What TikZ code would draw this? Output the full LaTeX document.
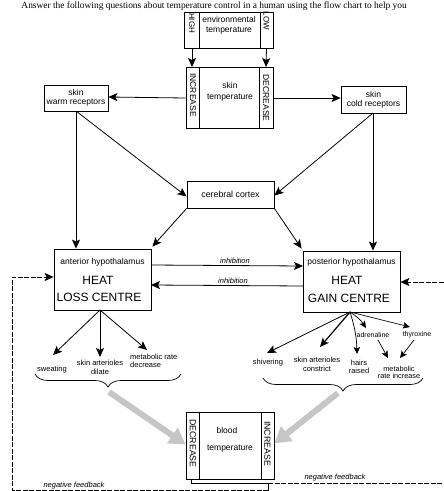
\documentclass[tikz,border=0pt]{standalone}
\usepackage{fontspec}
\setmainfont{Liberation Sans}
\newfontfamily\seriffont{Liberation Serif}
\usetikzlibrary{arrows.meta,decorations.pathreplacing,calc}
\begin{document}
\begin{tikzpicture}[x=1pt,y=-1pt,
  box/.style={draw,line width=0.8pt,rectangle,inner sep=0pt},
  con/.style={line width=0.8pt,-{Stealth[length=9pt,width=8pt,inset=2pt]}},
  scon/.style={line width=0.7pt,-{Stealth[length=7pt,width=6.5pt,inset=1.5pt]}},
  fb/.style={line width=0.7pt,dash pattern=on 5pt off 1.5pt},
  plain/.style={line width=0.8pt},
  txt/.style={inner sep=0pt,align=center,font=\fontsize{8.5}{9}\selectfont},
  small/.style={inner sep=0pt,align=center,font=\fontsize{7.5}{7.5}\selectfont},
  col/.style={inner sep=0pt,rotate=-90,font=\fontsize{8.5}{9}\selectfont},
  big/.style={inner sep=0pt,font=\fontsize{12}{13}\selectfont},
  itl/.style={inner sep=0pt,font=\itshape\fontsize{7.5}{8}\selectfont},
  grey/.style={line width=6pt,draw=gray!45,-{Triangle[length=16pt,width=18pt]}},
  brc/.style={line width=0.7pt,decorate,decoration={brace,mirror,amplitude=13pt}}
]
\useasboundingbox (0,0) rectangle (444,491);
\clip (0,0) rectangle (444,491);

% title line
\node[anchor=base east,inner sep=0pt,font=\seriffont\fontsize{9.4}{10}\selectfont] (title) at (407,8)
  {Answer the following questions about temperature control in a human using the flow chart to help you};

% environmental temperature
\node[box,minimum width=89pt,minimum height=36pt] (env) at (228.5,30) {};
\draw[plain] ($(env.north west)+(16,0)$) -- ($(env.south west)+(16,0)$);
\draw[plain] ($(env.north east)+(-13,0)$) -- ($(env.south east)+(-13,0)$);
\node[txt] (envt) at (229,25) {environmental\\[1pt]temperature};
\node[col,font=\fontsize{8}{9}\selectfont] (high) at (192,23) {HIGH};
\node[col,font=\fontsize{8}{9}\selectfont] (low) at (266.5,21) {LOW};

% skin temperature
\node[box,minimum width=87pt,minimum height=61pt] (skin) at (229.5,97.5) {};
\draw[plain] ($(skin.north west)+(14,0)$) -- ($(skin.south west)+(14,0)$);
\draw[plain] ($(skin.north east)+(-14,0)$) -- ($(skin.south east)+(-14,0)$);
\node[txt] (skint) at (230,91.5) {skin\\[2pt]temperature};
\node[col] (inc1) at (193,95) {INCREASE};
\node[col] (dec1) at (266,98) {DECREASE};
\coordinate (hv) at (192,67);
\coordinate (lv) at (266,67);
\draw[con] (high.west |- env.south) -- (hv);
\draw[con] (low.west |- env.south) -- (lv);

% receptors
\node[box,minimum width=64pt,minimum height=26pt] (warm) at (76,98) {};
\node[txt] (warmt) at (76,97.5) {skin\\warm receptors};
\node[box,minimum width=65pt,minimum height=27pt] (cold) at (373.5,99.5) {};
\node[txt] (coldt) at (373.5,99.5) {skin\\cold receptors};
\draw[con] (skin.west |- 0,98) -- (warm.east |- 0,97);
\draw[con] (skin.east |- 0,98) -- (cold.west |- 0,98);

% cerebral cortex
\node[box,minimum width=87pt,minimum height=27pt] (cer) at (230.5,194.5) {};
\node[txt,font=\fontsize{8.8}{9}\selectfont] (cert) at (230.5,194.5) {cerebral cortex};
\coordinate (warmb) at (76,111);
\coordinate (coldb) at (373,113);
\draw[con] (warmb) -- ($(cer.west)+(0,2)$);
\draw[con] (coldb) -- ($(cer.east)+(0,1)$);

% hypothalamus centres
\node[box,minimum width=97pt,minimum height=61pt] (loss) at (102.5,279.5) {};
\node[box,minimum width=97pt,minimum height=61pt] (gain) at (351.5,281.5) {};
\node[txt] (losst) at (102.5,262) {anterior hypothalamus};
\node[big] (lossh) at (98,280) {HEAT};
\node[big] (lossc) at (99,297.5) {LOSS CENTRE};
\node[txt] (gaint) at (351.5,262.5) {posterior hypothalamus};
\node[big] (gainh) at (347,280.5) {HEAT};
\node[big] (gainc) at (349,298.5) {GAIN CENTRE};

\draw[con] (warmb) -- (loss.north -| warmb);
\draw[con] (coldb) -- (gain.north -| coldb);
\draw[con] (cer.south west) -- ($(loss.north east)+(1,-2)$);
\draw[con] (cer.south east) -- ($(gain.north west)+(-1,-2)$);

% inhibition
\coordinate (i1) at (151,265);
\coordinate (i2) at (303,266);
\coordinate (i3) at (303,286);
\coordinate (i4) at (151,285);
\draw[con] (i1) -- (i2);
\draw[con] (i3) -- (i4);
\node[itl] (inh1) at (235,261) {inhibition};
\node[itl] (inh2) at (233,281) {inhibition};

% heat loss effectors
\coordinate (lo) at (100,310);
\coordinate (sw) at (53,355);
\coordinate (dil) at (100,357);
\coordinate (mdec) at (147,350);
\draw[con] (lo) -- (sw);
\draw[con] (lo) -- (dil);
\draw[con] (lo) -- (mdec);
\node[small] (swt) at (52,370) {sweating};
\node[small] (dilt) at (100,367) {skin arterioles\\[1.5pt]dilate};
\node[small,align=left,anchor=west] (mdect) at (130,361) {metabolic rate\\decrease};
\draw[brc] (35,374) -- (181,374);

% heat gain effectors
\coordinate (go) at (350,312);
\coordinate (shv) at (267,353);
\coordinate (cons) at (320,347);
\coordinate (hair) at (357,354);
\coordinate (adr) at (366,328);
\coordinate (thy) at (410,327);
\coordinate (adr2) at (378,340);
\coordinate (thy2) at (414,340);
\coordinate (mint) at (388,358);
\coordinate (mint2) at (400,358);
\draw[con] (go) -- (shv);
\draw[con,line width=1.2pt] (go) -- (cons);
\draw[scon] (go) to[bend left=8] (hair);
\draw[scon] (go) to[bend left=12] (adr);
\draw[scon] (go) -- (thy);
\draw[scon] (adr2) -- (mint);
\draw[scon] (thy2) -- (mint2);
\node[small] (shvt) at (268,363) {shivering};
\node[small] (const) at (317,364) {skin arterioles\\[1.5pt]constrict};
\node[small] (hairt) at (359,367) {hairs\\[1pt]raised};
\node[small,font=\fontsize{7}{7}\selectfont] (adrt) at (373,335) {adrenaline};
\node[small,font=\fontsize{7}{7}\selectfont] (thyt) at (417,335) {thyroxine};
\node[small,font=\fontsize{7.3}{7}\selectfont] (mint3) at (399,372.5) {metabolic\\rate increase};
\draw[brc] (263,378) -- (423,378);

% blood temperature
\node[box,minimum width=88pt,minimum height=67pt] (blood) at (230,445.5) {};
\draw[plain] ($(blood.north west)+(14,0)$) -- ($(blood.south west)+(14,0)$);
\draw[plain] ($(blood.north east)+(-13,0)$) -- ($(blood.south east)+(-13,0)$);
\node[txt] (bloodt) at (227,430) {blood};
\node[txt] (bloodt2) at (230,449) {temperature};
\node[col,font=\fontsize{8.8}{9}\selectfont] (dec2) at (193,443.5) {DECREASE};
\node[col,font=\fontsize{8.8}{9}\selectfont] (inc2) at (267.5,443.5) {INCREASE};

% grey arrows
\coordinate (lbt) at (109,392);
\coordinate (rbt) at (338,393);
\draw[grey] (lbt) -- ($(blood.west)+(0,-1)$);
\draw[grey] (rbt) -- ($(blood.east)+(0,-2)$);

% negative feedback
\coordinate (fbs) at ($(blood.south west)+(6,0)$);
\coordinate (fbj) at (268,483);
\coordinate (fbd) at (268,492);
\coordinate (fbr1) at (447,483);
\coordinate (fbr2) at (447,282);
\coordinate (fbl0) at (268,490);
\coordinate (fbl1) at (12,490);
\coordinate (fbl2) at (12,277);
\draw[line width=0.7pt] (fbs) |- (fbj) -- (fbd);
\draw[fb,-{Stealth[length=9pt,width=8pt,inset=2pt]}] (fbj) -- (fbr1) -- (fbr2) -- (gain.east |- fbr2);
\draw[fb,-{Stealth[length=9pt,width=8pt,inset=2pt]}] (fbl0) -- (fbl1) -- (fbl2) -- (loss.west |- fbl2);
\node[itl] (nf1) at (335,477.5) {negative feedback};
\node[itl] (nf2) at (74,485.5) {negative feedback};
\end{tikzpicture}
\end{document}
